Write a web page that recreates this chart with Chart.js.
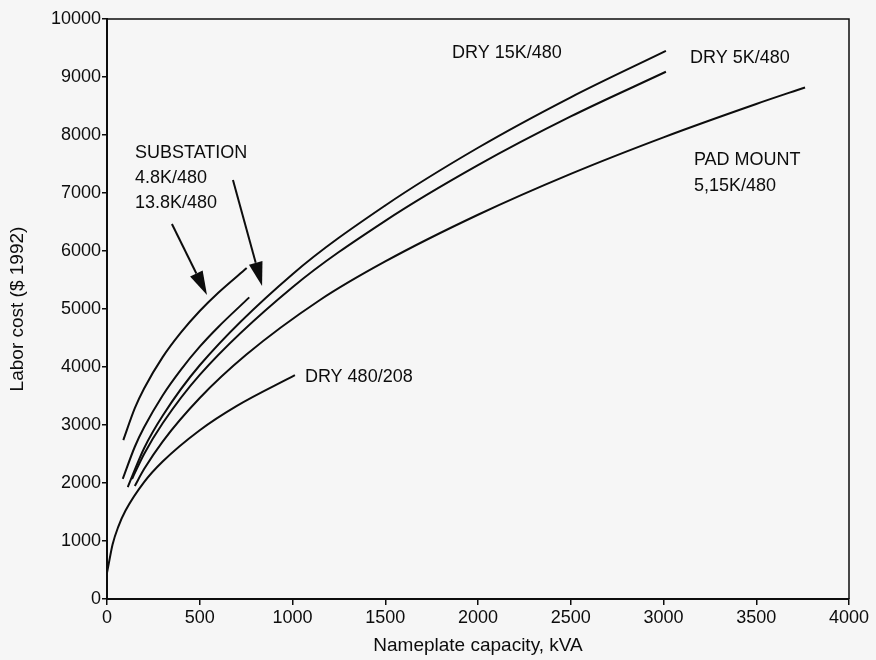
<!DOCTYPE html>
<html>
<head>
<meta charset="utf-8">
<script src="https://cdn.jsdelivr.net/npm/chart.js@4/dist/chart.umd.min.js"></script>
<style>
  html, body { margin: 0; padding: 0; background: #f6f6f6; }
  #wrap { width: 876px; height: 660px; position: relative; }
</style>
</head>
<body>
<div id="wrap"><canvas id="costChart" width="876" height="660"></canvas></div>
<script>
// ---- Series data (kVA vs labor cost, $ 1992) ----
const subHighX = [88, 150, 200, 300, 400, 500, 600, 753];
const subHighY = [2740, 3290, 3630, 4170, 4600, 4965, 5280, 5705];

const subLowX  = [85, 150, 200, 300, 400, 500, 600, 767];
const subLowY  = [2070, 2625, 2960, 3510, 3960, 4350, 4690, 5200];

const dry15X   = [112, 200, 300, 500, 1000, 1500, 2000, 2500, 3013];
const dry15Y   = [1930, 2600, 3160, 4030, 5600, 6785, 7780, 8650, 9450];

const dry5X    = [135, 200, 300, 500, 1000, 1500, 2000, 2500, 3013];
const dry5Y    = [2070, 2500, 3030, 3865, 5375, 6520, 7480, 8320, 9090];

const padX     = [150, 200, 300, 500, 750, 1148, 1500, 2000, 2500, 3000, 3500, 3763];
const padY     = [1950, 2240, 2715, 3465, 4210, 5155, 5820, 6625, 7330, 7960, 8535, 8820];

const dry208X  = [0, 10, 30, 60, 100, 200, 300, 500, 700, 1013];
const dry208Y  = [450, 620, 940, 1240, 1525, 2015, 2370, 2910, 3330, 3860];

// axis ticks
const xTicks = [0, 500, 1000, 1500, 2000, 2500, 3000, 3500, 4000];
const yTicks = [0, 1000, 2000, 3000, 4000, 5000, 6000, 7000, 8000, 9000, 10000];

// text labels, placed in data coordinates
const LABELS = [
  { text: "SUBSTATION",  x: 151,  y: 7690 },
  { text: "4.8K/480",    x: 151,  y: 7259 },
  { text: "13.8K/480",   x: 151,  y: 6828 },
  { text: "DRY 15K/480", x: 1860, y: 9414 },
  { text: "DRY 5K/480",  x: 3143, y: 9328 },
  { text: "PAD MOUNT",   x: 3164, y: 7569 },
  { text: "5,15K/480",   x: 3164, y: 7121 },
  { text: "DRY 480/208", x: 1067, y: 3828 },
];

const ARROWS = [
  { from: [350, 6466], to: [539, 5241] },
  { from: [679, 7224], to: [836, 5397] },
];

const FONT = "'Liberation Sans', Arial, sans-serif";
const INK = "#0d0d0d";

function toPoints(xs, ys) {
  return xs.map((x, i) => ({ x, y: ys[i] }));
}

function series(xs, ys) {
  return {
    data: toPoints(xs, ys),
    showLine: true,
    borderColor: INK,
    borderWidth: 2,
    pointRadius: 0,
    cubicInterpolationMode: "monotone",
    fill: false,
  };
}

// ---- frame, labels, arrows ----
const annotate = {
  id: "annotate",
  afterDraw(chart) {
    const { ctx, chartArea: a, scales: { x, y } } = chart;
    ctx.save();
    ctx.strokeStyle = INK;
    ctx.lineWidth = 1.5;
    ctx.beginPath();
    ctx.moveTo(a.left, a.top);
    ctx.lineTo(a.right, a.top);
    ctx.lineTo(a.right, a.bottom);
    ctx.stroke();

    ctx.fillStyle = INK;
    ctx.font = "18px " + FONT;
    ctx.textBaseline = "middle";
    ctx.textAlign = "left";
    LABELS.forEach(l => ctx.fillText(l.text, x.getPixelForValue(l.x), y.getPixelForValue(l.y)));

    ARROWS.forEach(ar => {
      const x0 = x.getPixelForValue(ar.from[0]), y0 = y.getPixelForValue(ar.from[1]);
      const x1 = x.getPixelForValue(ar.to[0]),   y1 = y.getPixelForValue(ar.to[1]);
      const ang = Math.atan2(y1 - y0, x1 - x0);
      const len = 24, half = 7;
      const bx = x1 - len * Math.cos(ang), by = y1 - len * Math.sin(ang);
      ctx.lineWidth = 2;
      ctx.beginPath();
      ctx.moveTo(x0, y0);
      ctx.lineTo(bx, by);
      ctx.stroke();
      ctx.beginPath();
      ctx.moveTo(x1, y1);
      ctx.lineTo(bx + half * Math.sin(ang), by - half * Math.cos(ang));
      ctx.lineTo(bx - half * Math.sin(ang), by + half * Math.cos(ang));
      ctx.closePath();
      ctx.fill();
    });
    ctx.restore();
  }
};

new Chart(document.getElementById("costChart"), {
  type: "scatter",
  data: {
    datasets: [
      series(subHighX, subHighY),
      series(subLowX, subLowY),
      series(dry15X, dry15Y),
      series(dry5X, dry5Y),
      series(padX, padY),
      series(dry208X, dry208Y),
    ]
  },
  options: {
    responsive: false,
    animation: false,
    layout: { padding: { top: 19, right: 27, bottom: 0, left: 0 } },
    plugins: { legend: { display: false }, tooltip: { enabled: false } },
    scales: {
      x: {
        type: "linear",
        min: 0, max: 4000,
        afterBuildTicks: s => { s.ticks = xTicks.map(v => ({ value: v })); },
        afterFit: s => { s.height = 61; },
        border: { display: true, color: INK, width: 2 },
        grid: { drawOnChartArea: false, drawTicks: true, tickLength: 6, color: INK, lineWidth: 1.5 },
        ticks: { color: INK, font: { family: FONT, size: 18 }, padding: 2, maxRotation: 0, callback: v => String(v) },
        title: { display: true, text: "Nameplate capacity, kVA", color: INK, font: { family: FONT, size: 19 }, padding: { top: 0, bottom: 3 } },
      },
      y: {
        type: "linear",
        min: 0, max: 10000,
        afterBuildTicks: s => { s.ticks = yTicks.map(v => ({ value: v })); },
        afterFit: s => { s.width = 107; },
        border: { display: true, color: INK, width: 2 },
        grid: { drawOnChartArea: false, drawTicks: true, tickLength: 5, color: INK, lineWidth: 1.5 },
        ticks: { color: INK, font: { family: FONT, size: 18 }, padding: 1, callback: v => String(v) },
        title: { display: true, text: "Labor cost ($ 1992)", color: INK, font: { family: FONT, size: 19 }, padding: { top: 6, bottom: 0 } },
      }
    }
  },
  plugins: [annotate]
});
</script>
</body>
</html>
